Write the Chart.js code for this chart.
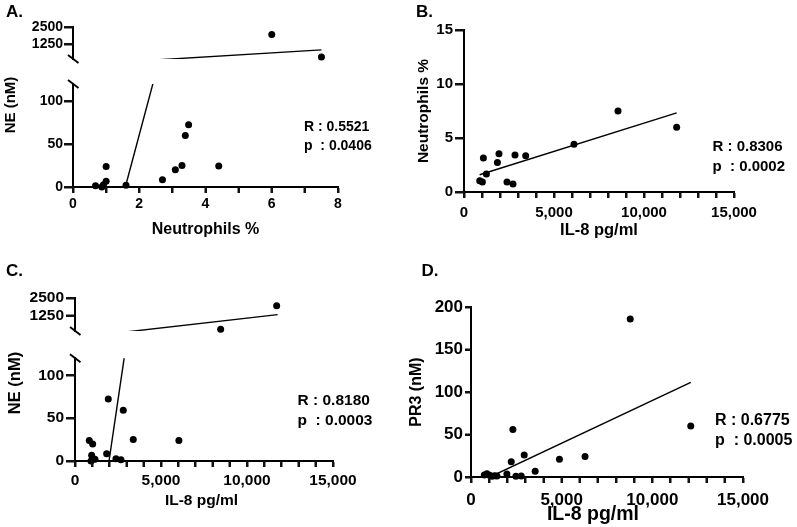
<!DOCTYPE html>
<html><head><meta charset="utf-8">
<script src="https://cdn.jsdelivr.net/npm/chart.js@4.4.1/dist/chart.umd.min.js"></script>
<style>
html,body{margin:0;padding:0;background:#fff;}
#wrap{position:relative;width:797px;height:527px;overflow:hidden;font-family:"Liberation Sans",Arial,Helvetica,sans-serif;font-weight:bold;color:#000;}
canvas{position:absolute;}
.t{position:absolute;white-space:pre;line-height:1;}
</style></head><body><div id="wrap"></div>
<script>
// ---------------- data ----------------
// Panel A: NE (nM) vs Neutrophils %
const neutA = [0.68, 0.87, 0.92, 1.0, 1.0, 1.6, 2.7, 3.09, 3.29, 3.39, 3.49, 4.4, 6.0, 7.5];
const neA   = [1.6, 0, 2.5, 6.7, 24, 2, 8.5, 20, 25, 60, 72.5, 24.5, 1955, 340];
const fitA_x = [1.58, 7.5];
const fitA_y = [0, 856];
// Panel B: Neutrophils % vs IL-8 pg/ml
const il8B  = [872, 1022, 1078, 1244, 1856, 1944, 2389, 2722, 2833, 3428, 6110, 8556, 11815];
const neutB = [1.04, 0.92, 3.14, 1.66, 2.74, 3.54, 0.92, 0.74, 3.42, 3.35, 4.42, 7.5, 6.0];
const fitB_x = [870, 11815];
const fitB_y = [1.6, 7.32];
// Panel C: NE (nM) vs IL-8 pg/ml
const il8C = [830, 1027, 968, 930, 1161, 1840, 1935, 2381, 2671, 2806, 3387, 6040, 8469, 11725];
const neC  = [23.9, 20, 6.6, 0, 2, 8.5, 72.3, 2.7, 1.6, 59.3, 25, 23.9, 325, 1952];
const fitC_x = [1977, 11783];
const fitC_y = [0, 1338];
// Panel D: PR3 (nM) vs IL-8 pg/ml
const il8D = [733, 880, 1027, 1155, 1302, 1430, 1980, 2219, 2310, 2475, 2769, 2934, 3539, 4877, 6289, 8782, 12119];
const pr3D = [2.4, 3.9, 2, 0.8, 1.6, 1.2, 3.5, 18, 56, 0.8, 1.2, 25.9, 6.7, 21, 24, 186, 60];
const fitD_x = [1050, 12120];
const fitD_y = [0, 111.5];
// axis ranges / ticks
const neutTicks  = [0, 2, 4, 6, 8];
const il8Ticks   = [0, 5000, 10000, 15000];
const neLowTicks = [0, 50, 100];
const neUpTicks  = [1250, 2500];
const neLowRange = [0, 120];
const neUpRange  = [200, 2500];
const neutYTicks = [0, 5, 10, 15];
const pr3Ticks   = [0, 50, 100, 150, 200];
// texts
const statsA = ['R : 0.5521', 'p  : 0.0406'];
const statsB = ['R : 0.8306', 'p  : 0.0002'];
const statsC = ['R : 0.8180', 'p  : 0.0003'];
const statsD = ['R : 0.6775', 'p  : 0.0005'];

// ---------------- rendering ----------------
const FAM = '"Liberation Sans", Arial, Helvetica, sans-serif';
const INK = '#111111';
Chart.defaults.font.family = FAM;
Chart.defaults.font.weight = 'bold';
Chart.defaults.color = '#000';
const wrap = document.getElementById('wrap');

// tick marks from the scales' own ticks and pixel mapping, plus axis-break marks
const axisDeco = {
  id: 'axisDeco',
  afterDraw(chart) {
    const {ctx, chartArea: a} = chart;
    const cfg = chart.canvas._deco || {};
    ctx.save();
    ctx.strokeStyle = INK; ctx.lineWidth = 2; ctx.lineCap = 'butt';
    const xs = chart.scales.x, ys = chart.scales.y;
    if (cfg.showX) {
      for (const v of cfg.xTicks) {
        const x = Math.round(xs.getPixelForValue(v));
        ctx.beginPath(); ctx.moveTo(x, a.bottom); ctx.lineTo(x, a.bottom + cfg.xTL); ctx.stroke();
      }
    }
    for (const v of cfg.yTicks) {
      const y = Math.round(ys.getPixelForValue(v));
      ctx.beginPath(); ctx.moveTo(a.left - cfg.yTL, y); ctx.lineTo(a.left, y); ctx.stroke();
    }
    if (cfg.brk) {
      const y = cfg.brk === 'top' ? a.top : a.bottom;
      ctx.strokeStyle = '#000';
      ctx.beginPath(); ctx.moveTo(a.left - 5, y - 4); ctx.lineTo(a.left + 5.5, y + 4); ctx.stroke();
    }
    ctx.restore();
  }
};

function addCanvas(g) {
  const c = document.createElement('canvas');
  const w = g.padL + (g.R - g.L) + g.padR;
  const h = g.padT + (g.B - g.T) + g.padB;
  c.width = w; c.height = h;
  c.style.left = (g.L - g.padL) + 'px'; c.style.top = (g.T - g.padT) + 'px';
  c.style.width = w + 'px'; c.style.height = h + 'px';
  wrap.appendChild(c);
  return c;
}
const pts = (xs, ys) => xs.map((x, i) => ({x, y: ys[i]}));
const comma = v => v.toLocaleString('en-US');
const plain = v => String(v);
function minorList(majors, parts) {
  const out = [];
  for (let i = 0; i < majors.length; i++) {
    out.push(majors[i]);
    if (i < majors.length - 1) {
      const step = (majors[i + 1] - majors[i]) / parts;
      for (let k = 1; k < parts; k++) out.push(majors[i] + k * step);
    }
  }
  return out;
}

function panel(g, o) {
  const c = addCanvas(g);
  c._deco = {xTL: o.xTL, yTL: o.yTL, brk: o.brk || '', showX: o.showX, xTicks: o.xTickVals, yTicks: o.yTickVals};
  const inRange = (p) => p.y >= o.yMin && p.y <= o.yMax;
  const points = pts(o.xs, o.ys).filter(inRange);
  return new Chart(c, {
    type: 'scatter',
    data: {datasets: [
      {data: points, pointRadius: 3.5, pointBackgroundColor: '#000', pointBorderWidth: 0, clip: false, order: 0},
      {data: pts(o.fx, o.fy), showLine: true, pointRadius: 0, borderColor: '#000', borderWidth: 1.4, clip: 0, order: 1}
    ]},
    plugins: [axisDeco],
    options: {
      responsive: false, animation: false, events: [],
      layout: {padding: {left: 0, top: g.padT, right: g.padR, bottom: o.showX ? 0 : g.padB}},
      plugins: {legend: {display: false}, tooltip: {enabled: false}},
      scales: {
        x: {
          type: 'linear', display: o.showX, min: o.xMin, max: o.xMax,
          afterFit: s => { s.height = g.padB; },
          afterBuildTicks: s => { s.ticks = o.xTickVals.map(v => ({value: v})); },
          border: {display: true, width: 2, color: '#000'},
          grid: {display: true, drawOnChartArea: false, drawTicks: true, tickLength: o.xTL, tickWidth: 2, tickColor: INK, color: INK},
          ticks: {autoSkip: false, maxRotation: 0, minRotation: 0, padding: o.xPad, color: '#000',
                  font: {size: o.tickSize, weight: 'bold'},
                  callback: v => o.xMajor.includes(v) ? o.xFmt(v) : ''},
          title: {display: !!o.xTitle, text: o.xTitle || '', padding: 0, color: '#000',
                  font: {size: o.xTitleSize, weight: 'bold'}}
        },
        y: {
          type: 'linear', min: o.yMin, max: o.yMax,
          afterFit: s => { s.width = g.padL; },
          afterBuildTicks: s => { s.ticks = o.yTickVals.map(v => ({value: v})); },
          border: {display: true, width: 2, color: '#000'},
          grid: {display: true, drawOnChartArea: false, drawTicks: true, tickLength: o.yTL, tickWidth: 2, tickColor: INK, color: INK},
          ticks: {autoSkip: false, padding: o.yPad, color: '#000', font: {size: o.tickSize, weight: 'bold'},
                  callback: v => o.yFmt(v)},
          title: {display: !!o.yTitle, text: o.yTitle || '', padding: 0, color: '#000',
                  font: {size: o.yTitleSize, weight: 'bold'}}
        }
      }
    }
  });
}

function text(str, x, y, size, mode) {
  const d = document.createElement('div');
  d.className = 't';
  d.textContent = str;
  d.style.fontSize = size + 'px';
  d.style.left = x + 'px'; d.style.top = y + 'px';
  if (mode === 'rot') d.style.transform = 'translate(-50%,-50%) rotate(-90deg)';
  else if (mode === 'mid') d.style.transform = 'translate(-50%,-50%)';
  else d.style.transform = 'translateY(-50%)';
  wrap.appendChild(d);
}

// ---- Panel A ----
const gAu = {L: 73, R: 338, T: 27, B: 71, padL: 62, padT: 12, padR: 30, padB: 12};
const gAl = {L: 73, R: 338, T: 84, B: 187, padL: 62, padT: 10, padR: 30, padB: 52};
const baseA = {xs: neutA, ys: neA, fx: fitA_x, fy: fitA_y, xMin: 0, xMax: 8,
  xTickVals: minorList(neutTicks, 2), xMajor: neutTicks, xFmt: plain, yFmt: plain,
  tickSize: 14, xTL: 6, xPad: 3, yTL: 9, yPad: 1};
panel(gAu, Object.assign({}, baseA, {showX: false, yMin: neUpRange[0], yMax: neUpRange[1], yTickVals: neUpTicks, brk: 'bottom'}));
panel(gAl, Object.assign({}, baseA, {showX: true, yMin: neLowRange[0], yMax: neLowRange[1], yTickVals: neLowTicks, brk: 'top',
  xTitle: 'Neutrophils %', xTitleSize: 16}));
text('NE (nM)', 8.5, 105, 15, 'rot');
text('A.', 6, 10.5, 17);
text(statsA[0], 304, 126, 14);
text(statsA[1], 304, 145, 14);

// ---- Panel B ----
const gB = {L: 464, R: 734, T: 30, B: 192, padL: 50, padT: 12, padR: 45, padB: 48};
panel(gB, {xs: il8B, ys: neutB, fx: fitB_x, fy: fitB_y, xMin: 0, xMax: 15000,
  xTickVals: minorList(il8Ticks, 5), xMajor: il8Ticks, xFmt: comma, yFmt: plain,
  yMin: 0, yMax: 15, yTickVals: neutYTicks, showX: true,
  tickSize: 15, xTL: 6, xPad: 5.5, yTL: 9, yPad: 2,
  xTitle: 'IL-8 pg/ml', xTitleSize: 16.5, yTitle: 'Neutrophils %', yTitleSize: 15.5});
text('B.', 416, 11, 17);
text(statsB[0], 712.5, 144.5, 15);
text(statsB[1], 712.5, 164.5, 15);

// ---- Panel C ----
const gCu = {L: 75, R: 333, T: 298, B: 343, padL: 62, padT: 12, padR: 40, padB: 12};
const gCl = {L: 75, R: 333, T: 357, B: 461, padL: 62, padT: 10, padR: 40, padB: 48};
const baseC = {xs: il8C, ys: neC, fx: fitC_x, fy: fitC_y, xMin: 0, xMax: 15000,
  xTickVals: minorList(il8Ticks, 5), xMajor: il8Ticks, xFmt: comma, yFmt: plain,
  tickSize: 15.5, xTL: 6, xPad: 4.5, yTL: 9, yPad: 2};
panel(gCu, Object.assign({}, baseC, {showX: false, yMin: neUpRange[0], yMax: neUpRange[1], yTickVals: neUpTicks, brk: 'bottom'}));
panel(gCl, Object.assign({}, baseC, {showX: true, yMin: neLowRange[0], yMax: neLowRange[1], yTickVals: neLowTicks, brk: 'top'}));
text('IL-8 pg/ml', 201.5, 500, 15.5, 'mid');
text('NE (nM)', 13.5, 382.5, 16.5, 'rot');
text('C.', 6, 270, 17);
text(statsC[0], 297.5, 400, 15.5);
text(statsC[1], 297.5, 419.5, 15.5);

// ---- Panel D ----
const gD = {L: 471, R: 743, T: 307, B: 477, padL: 64, padT: 12, padR: 40, padB: 48};
panel(gD, {xs: il8D, ys: pr3D, fx: fitD_x, fy: fitD_y, xMin: 0, xMax: 15000,
  xTickVals: minorList(il8Ticks, 5), xMajor: il8Ticks, xFmt: comma, yFmt: plain,
  yMin: 0, yMax: 200, yTickVals: pr3Ticks, showX: true,
  tickSize: 17, xTL: 6, xPad: 7, yTL: 6, yPad: 2,
  yTitle: 'PR3 (nM)', yTitleSize: 16});
text('IL-8 pg/ml', 593, 513.5, 19.5, 'mid');
text('D.', 421.5, 270, 17);
text(statsD[0], 715, 420, 16);
text(statsD[1], 715, 440, 16);
</script></body></html>
